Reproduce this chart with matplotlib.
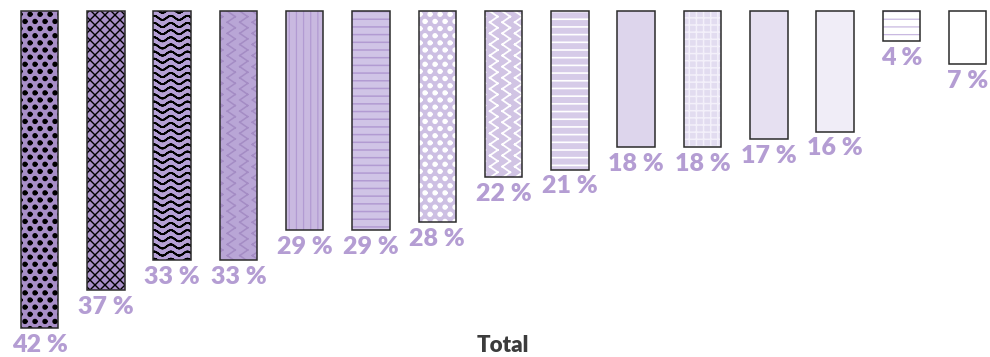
import warnings

import numpy as np
import matplotlib
matplotlib.use("Agg")
import matplotlib.pyplot as plt
import matplotlib.hatch as mhatch
from matplotlib.path import Path

warnings.filterwarnings("ignore")

values = [42, 37, 33, 33, 29, 29, 28, 22, 21, 18, 18, 17, 16, 4, 7]
labels = [f"{v} %" for v in values]
face_colors = ["#a88fc8", "#a88fc8", "#b5a0d6", "#b9a6d6", "#c9b9e0", "#d0c4e6",
               "#cdbfe3", "#d1c4e4", "#d6cbe8", "#ddd5ec", "#e2dcf0", "#e6e0f1",
               "#f0edf7", "#ffffff", "#ffffff"]
hatch_colors = ["#000000", "#000000", "#000000", "#a48cc4", "#b29bd2", "#b29bd2",
                "#ffffff", "#ffffff", "#ffffff", None, "#f3f0fa", None,
                None, "#c9b9e1", None]
hatches = ["D", "C", "W", "Z", "V", "H", "D", "Z", "H", None, "G", None, None, "H", None]
hatch_widths = [1.0, 1.0, 1.2, 1.1, 0.9, 1.1, 1.0, 1.3, 1.2, 1.0, 1.1, 1.0, 1.0, 0.9, 1.0]


def build_texture(key):
    # texture in one hatch cell (0..1), made of plain segments and filled dots
    segs = []
    dots = []
    if key == "H":
        for k in range(13):
            y = (k + 0.5) / 13
            segs.append((0, y, 1, y))
    elif key == "V":
        for k in range(14):
            x = (k + 0.5) / 14
            segs.append((x, 0, x, 1))
    elif key == "G":
        for k in range(14):
            p = (k + 0.5) / 14
            segs.append((0, p, 1, p))
            segs.append((p, 0, p, 1))
    elif key == "C":
        for k in range(-10, 11):
            c = k / 10
            segs.append((0, c, 1, 1 + c))
            segs.append((0, 1 - c, 1, -c))
    elif key == "W":
        t = np.linspace(0, 1, 6 * 20 + 1)
        for k in range(14):
            y = (k + 0.5) / 14 + 0.02 * np.sin(2 * np.pi * 6 * t)
            for a in range(len(t) - 1):
                segs.append((t[a], y[a], t[a + 1], y[a + 1]))
    elif key == "Z":
        for c in range(8):
            xc = (c + 0.5) / 8
            for r in range(9):
                y0 = r / 9
                segs.append((xc - 0.04, y0, xc + 0.04, y0 + 0.5 / 9))
                segs.append((xc + 0.04, y0 + 0.5 / 9, xc - 0.04, y0 + 1 / 9))
    elif key == "D":
        for r in range(15):
            shift = 0.05 if r % 2 else 0.0
            for c in range(11):
                dots.append((c / 10 + shift, r / 14))
    verts = []
    codes = []
    for x0, y0, x1, y1 in segs:
        verts += [(x0, y0), (x1, y1)]
        codes += [Path.MOVETO, Path.LINETO]
    ang = np.linspace(0, 2 * np.pi, 13)
    for cx, cy in dots:
        for j, a in enumerate(ang):
            verts.append((cx + 0.02 * np.cos(a), cy + 0.02 * np.sin(a)))
            codes.append(Path.MOVETO if j == 0 else Path.LINETO)
    return np.array(verts, dtype=float).reshape(-1, 2), np.array(codes, dtype=Path.code_type)


class Texture(mhatch.HatchPatternBase):
    def __init__(self, hatch, density):
        self.verts, self.codes = build_texture(hatch)
        self.num_vertices = len(self.verts)

    def set_vertices_and_codes(self, vertices, codes):
        vertices[:] = self.verts
        codes[:] = self.codes


mhatch._hatch_types.append(Texture)

fig = plt.figure(figsize=(9.9, 3.57), dpi=100)
ax = fig.add_axes([0, 0, 1, 1])
ax.set_axis_off()

px = 7.55  # pixels per percent
x = np.arange(len(values))
width = 0.566

for i, v in enumerate(values):
    if hatches[i] is None:
        ax.bar(i, v, width, color=face_colors[i], linewidth=0)
    else:
        bar = ax.bar(i, v, width, facecolor=face_colors[i], edgecolor=hatch_colors[i],
                     hatch=hatches[i], linewidth=0)[0]
        if hasattr(bar, "set_hatch_linewidth"):
            bar.set_hatch_linewidth(hatch_widths[i])

ax.bar(x, values, width, facecolor="none", edgecolor="#2b2b2b", linewidth=1.1)

for i, v in enumerate(values):
    ax.text(i, v + 0.75, labels[i], ha="center", va="top", fontsize=18,
            fontweight="heavy", color="#b49dd3", family="Lato")

ax.set_xlim(-39.5 / 66.3, (990 - 39.5) / 66.3)
ax.set_ylim((357 - 11) / px, -11 / px)

fig.text(503 / 990, 1 - 346 / 357, "Total", ha="center", va="center", fontsize=16,
         fontweight="heavy", color="#3c3c3c", family="Lato")

fig.savefig("out.png", dpi=100)
